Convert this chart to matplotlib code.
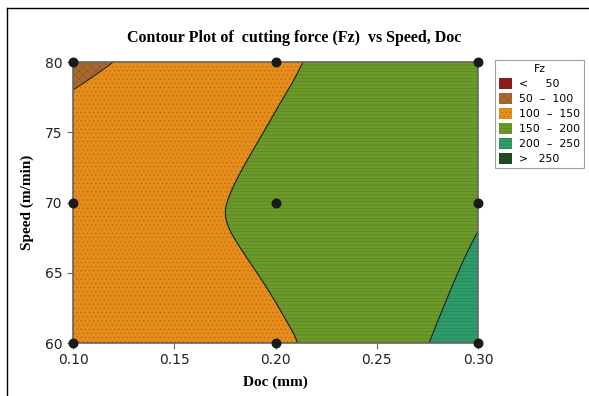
import numpy as np
import matplotlib
matplotlib.use("Agg")
import matplotlib.pyplot as plt
import matplotlib.tri as mtri
from matplotlib.patches import Patch
from matplotlib.lines import Line2D

# design points (Doc in mm, Speed in m/min) and measured Fz
doc = [0.10, 0.20, 0.30]
speed = [60, 70, 80]
fz = [
    [125, 144, 223],   # speed 60
    [134, 157, 196],   # speed 70
    [88, 143, 190],    # speed 80
]

levels = [0, 50, 100, 150, 200, 250, 400]
colors = ["#8a1c1c", "#a8692f", "#e58c1a", "#6b9a2a", "#2e9b6b", "#1c4a1f"]
hatches = [None, "xxxx", "....", "-----", "-----", None]
labels = ["<     50", "50  \u2013  100", "100  \u2013  150", "150  \u2013  200",
          "200  \u2013  250", ">   250"]

plt.rcParams["hatch.linewidth"] = 0.4
plt.rcParams["hatch.color"] = (0, 0, 0, 0.18)

X, Y = np.meshgrid(doc, speed)
Z = np.array(fz, dtype=float)
tri = mtri.Triangulation(X.ravel(), Y.ravel())
interp = mtri.CubicTriInterpolator(tri, Z.ravel(), kind="min_E")
refiner = mtri.UniformTriRefiner(tri)
tri_f, z_f = refiner.refine_field(Z.ravel(), triinterpolator=interp, subdiv=5)

fig = plt.figure(figsize=(5.89, 3.96), dpi=100)
ax = fig.add_axes([0.124, 0.1338, 0.6875, 0.7096])

ax.tricontourf(tri_f, z_f, levels=levels, colors=colors, hatches=hatches)
ax.tricontour(tri_f, z_f, levels=[50, 100, 150, 200, 250], colors="#222222",
              linewidths=0.8)
ax.scatter(X.ravel(), Y.ravel(), s=38, color="#1a1a1a", zorder=5, clip_on=False)

ax.set_xlim(0.10, 0.30)
ax.set_ylim(60, 80)
ax.set_xticks([0.10, 0.15, 0.20, 0.25, 0.30])
ax.set_xticklabels(["0.10", "0.15", "0.20", "0.25", "0.30"])
ax.set_yticks([60, 65, 70, 75, 80])
for s in ax.spines.values():
    s.set_color("#666666")
    s.set_linewidth(1.2)
ax.tick_params(colors="#666666", labelcolor="#222222", labelsize=10, length=4)

serif = ["Liberation Serif", "DejaVu Serif"]
ax.set_xlabel("Doc (mm)", fontfamily=serif, fontweight="bold", fontsize=11, labelpad=6)
ax.set_ylabel("Speed (m/min)", fontfamily=serif, fontweight="bold", fontsize=11, labelpad=8)
fig.text(0.5, 0.893, "Contour Plot of  cutting force (Fz)  vs Speed, Doc",
         ha="center", fontfamily=serif, fontweight="bold", fontsize=11.5)

handles = [Patch(facecolor=c, hatch=h, edgecolor=(0, 0, 0, 0.18), linewidth=0)
           for c, h in zip(colors, hatches)]
leg = ax.legend(handles, labels, title="Fz", loc="upper left",
                bbox_to_anchor=(1.042, 1.008), fontsize=7.8, title_fontsize=7.8,
                frameon=True, fancybox=False, edgecolor="#888888",
                handlelength=1.2, handleheight=1.2, handletextpad=0.6,
                borderaxespad=0, borderpad=0.4, labelspacing=0.35)
leg.get_frame().set_linewidth(0.8)

# outer frame of the figure
fig.add_artist(Line2D([7 / 589, 7 / 589], [0, 1 - 8 / 396], color="black", lw=1))
fig.add_artist(Line2D([7 / 589, 1], [1 - 8 / 396, 1 - 8 / 396], color="black", lw=1))

fig.savefig("out.png", dpi=100)
